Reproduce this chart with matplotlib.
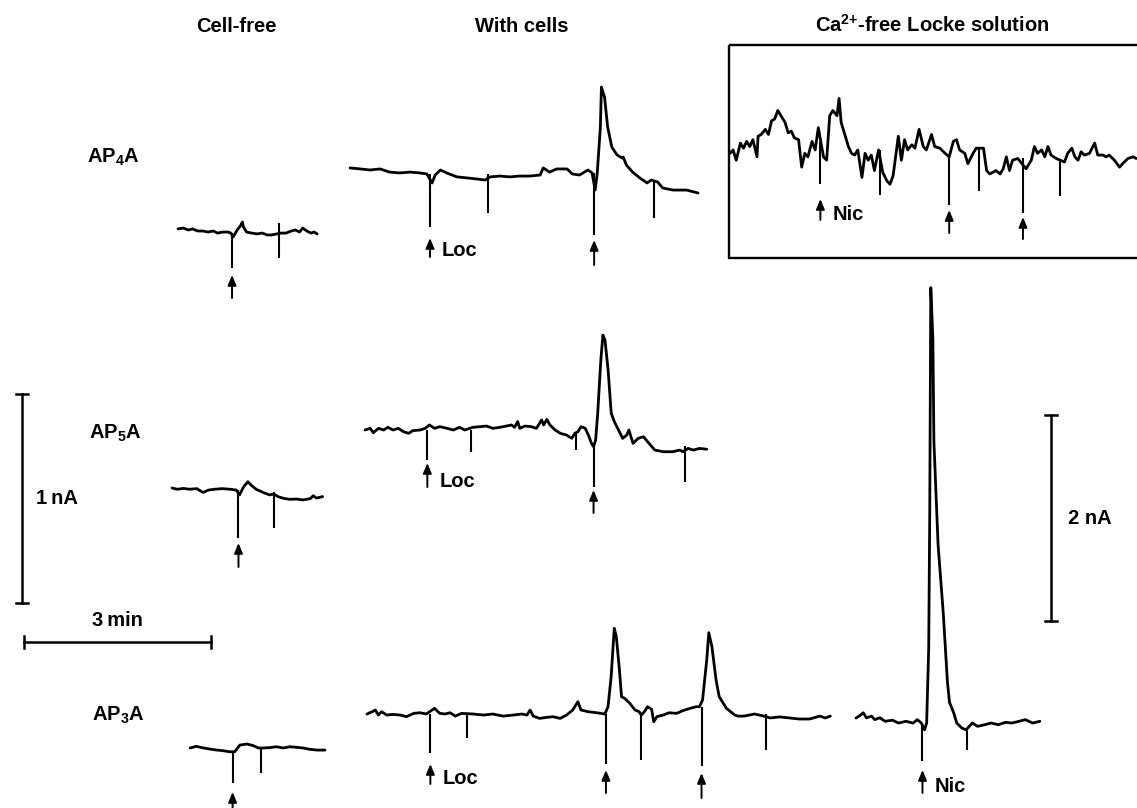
import matplotlib
matplotlib.use('Agg')
import matplotlib.pyplot as plt
from matplotlib.patches import Rectangle

plt.rcParams['font.family'] = ['Liberation Sans', 'DejaVu Sans']
plt.rcParams['font.weight'] = 'bold'
plt.rcParams['mathtext.fontset'] = 'custom'
plt.rcParams['mathtext.rm'] = 'Liberation Sans:bold'
plt.rcParams['mathtext.it'] = 'Liberation Sans:bold'
plt.rcParams['mathtext.bf'] = 'Liberation Sans:bold'

W, H = 1137, 808
PX_PER_S = 187 / 180          # 3 min bar
PX_PER_PA = 209 / 1000        # 1 nA bar
PX_PER_PA_CA = 206 / 2000     # 2 nA bar (Ca-free column)

# ---- data: time (s), current (pA) ----
# AP4A, cell-free
ap4a_free_t = [0, 5, 10, 14, 19, 24, 29, 34, 38, 43, 48, 51, 53, 57, 60, 62, 63, 66, 71, 76, 81, 86,
               90, 95, 99, 104, 109, 113, 117, 120, 124, 128, 131, 134]
ap4a_free_i = [10, 14, 5, 10, 0, 0, -5, 0, -10, -5, -5, -10, -29, 5, 24, 43, 19, -5, -10, -14, -10, -19,
               -19, -14, -10, -10, 0, 5, -5, 14, 0, -10, -5, -14]
ap4a_free_stim = [52, 97]
ap4a_free_top = [-10, 38]
ap4a_free_bot = [-177, -129]

# AP4A, with cells
ap4a_cells_t = [0, 10, 19, 29, 38, 48, 58, 67, 74, 79, 82, 87, 93, 103, 113, 122, 130, 135, 144, 154,
                163, 173, 183, 186, 192, 199, 209, 214, 221, 229, 233, 236, 238, 241, 242, 245, 248,
                252, 257, 262, 263, 266, 272, 279, 286, 290, 296, 301, 311, 324, 335]
ap4a_cells_i = [10, 5, 0, 5, -10, -14, -10, -14, -19, -62, -24, 0, -14, -33, -38, -43, -48, -33, -29,
                -33, -29, -29, -24, 10, -10, 5, 5, -19, -24, 0, -14, -96, -14, 206, 397, 349, 206,
                110, 72, 57, 62, 24, -10, -38, -62, -48, -57, -86, -96, -96, -110]
ap4a_cells_stim = [77, 133, 235, 293]
ap4a_cells_top = [-19, -19, -14, -48]
ap4a_cells_bot = [-272, -206, -311, -229]

# AP4A, Ca2+-free Locke solution
ap4a_ca_t = [0, 3, 6, 10, 13, 16, 19, 22, 26, 27, 30, 34, 37, 40, 43, 46, 50, 53, 56, 59, 62, 66, 69,
             72, 75, 79, 82, 85, 90, 93, 96, 99, 103, 105, 107, 111, 114, 117, 120, 123, 127, 130,
             133, 136, 139, 143, 147, 151, 154, 157, 162, 165, 168, 171, 175, 178, 182, 186, 189,
             194, 197, 202, 207, 211, 215, 218, 221, 226, 229, 234, 237, 244, 247, 250, 253, 256,
             260, 263, 266, 269, 272, 277, 285, 290, 293, 296, 300, 303, 306, 309, 314, 318, 322,
             325, 329, 332, 335, 338, 341, 346, 351, 354, 359, 362, 365, 370, 375, 378, 383, 388, 391]
ap4a_ca_i = [-13, 20, -80, 87, 37, 103, 53, 120, -47, 153, 170, 220, 170, 303, 320, 403, 337, 287,
             187, 203, 137, 120, -147, -13, -47, 103, 20, 237, -47, -80, 353, 403, 353, 520, 287,
             153, 53, -13, -30, 20, -247, -13, -80, -30, -180, 20, -197, -280, -313, -230, 153, -80,
             120, 20, 70, 37, 220, 53, 20, 170, 53, 37, -13, -47, 103, 120, 20, -13, -113, -13, 37,
             37, -180, -213, -197, -180, -213, -163, -47, -180, -80, -63, -163, -80, 53, -13, 20,
             -47, 53, -30, -63, -80, -97, -13, 37, -47, -80, 3, -30, -13, 87, -30, -30, -47, -30,
             -80, -147, -113, -63, -47, -63]
ap4a_ca_stim = [87, 144, 211, 240, 282, 318]
ap4a_ca_top = [100, 20, -47, 37, -63, -80]
ap4a_ca_bot = [-313, -413, -513, -380, -597, -430]

# AP5A, cell-free
ap5a_free_t = [0, 5, 11, 17, 24, 27, 30, 35, 41, 48, 56, 62, 65, 69, 73, 77, 81, 88, 94, 98, 102,
               107, 113, 120, 126, 133, 136, 139, 142, 145]
ap5a_free_i = [0, -6, -2, -6, -3, -13, -21, -10, -6, -3, -6, -10, -33, 6, 30, 10, -6, -22, -33, -29,
               -41, -49, -54, -53, -57, -51, -37, -48, -45, -41]
ap5a_free_stim = [64, 98]
ap5a_free_top = [-10, -18]
ap5a_free_bot = [-240, -193]

# AP5A, with cells
ap5a_cells_t = [0, 5, 8, 13, 18, 22, 27, 32, 37, 42, 46, 53, 58, 62, 67, 72, 79, 85, 91, 96, 104,
                111, 117, 123, 130, 136, 141, 144, 147, 149, 154, 160, 165, 170, 172, 175, 178, 183,
                188, 194, 199, 202, 205, 208, 212, 215, 218, 220, 222, 224, 227, 229, 231, 234, 237,
                240, 244, 248, 252, 254, 258, 263, 268, 272, 279, 287, 296, 303, 306, 311, 316, 322,
                329]
ap5a_cells_i = [0, 8, -13, 8, 0, 13, 0, 8, -8, -16, -3, 0, 8, 24, 8, 16, 8, 0, 13, 0, 13, 16, 19, 8,
                13, 19, 24, 13, 40, 8, 19, 16, 8, 48, 24, 51, 24, 0, -16, -24, -40, -16, -8, 16, 8,
                -24, -64, -80, -48, 80, 335, 454, 430, 287, 80, 40, 0, -40, -24, 0, -64, -40, -32,
                -56, -96, -104, -104, -96, -104, -88, -96, -88, -92]
ap5a_cells_stim = [60, 102, 203, 220, 308]
ap5a_cells_top = [0, 0, -16, -80, -76]
ap5a_cells_bot = [-143, -104, -96, -272, -247]

# AP3A, cell-free
ap3a_free_t = [0, 6, 13, 19, 26, 32, 38, 43, 48, 55, 61, 66, 70, 77, 83, 90, 96, 103, 109, 115, 122, 130]
ap3a_free_i = [0, 8, 0, -5, -10, -13, -18, -18, 14, 19, 11, 0, 0, 2, 6, 0, 6, 3, 0, -6, -10, -10]
ap3a_free_stim = [41, 68]
ap3a_free_top = [-18, 6]
ap3a_free_bot = [-169, -118]

# AP3A, with cells
ap3a_cells_t = [0, 5, 8, 11, 14, 19, 25, 32, 38, 45, 51, 57, 65, 70, 75, 80, 85, 91, 102, 112, 121,
                131, 141, 149, 154, 157, 160, 166, 173, 179, 186, 192, 198, 203, 206, 213, 221, 229,
                232, 235, 238, 240, 243, 245, 248, 253, 258, 262, 264, 267, 270, 274, 276, 279, 285,
                291, 298, 304, 311, 317, 320, 323, 327, 329, 332, 336, 339, 346, 354, 357, 363, 373,
                382, 388, 397, 407, 416, 426, 436, 441, 446]
ap3a_cells_i = [0, 11, 19, -5, 11, -5, -2, -5, -13, 3, 6, 0, 27, 3, 0, 6, -10, 3, 0, -5, 0, -10, -5,
                0, -5, 19, -10, -21, -16, -13, -21, -5, 19, 59, 19, 11, 6, 0, 35, 178, 410, 369, 210,
                83, 75, 51, 19, 11, -5, 11, 35, 22, -37, -13, -5, 6, 3, 16, 27, 35, 35, 67, 258, 389,
                322, 163, 83, 27, -5, -10, -10, 0, -10, -19, -14, -19, -24, -24, -10, -19, -10]
ap3a_cells_stim = [61, 96, 230, 264, 322, 384]
ap3a_cells_top = [0, 3, 0, -5, 35, 0]
ap3a_cells_bot = [-185, -116, -239, -220, -249, -172]

# AP3A, Ca2+-free Locke solution
ap3a_ca_t = [0, 3, 7, 10, 15, 18, 23, 28, 35, 41, 48, 55, 59, 63, 66, 68, 70, 71, 72, 74, 75, 79, 84,
             88, 90, 94, 97, 102, 106, 109, 112, 117, 124, 130, 137, 144, 150, 157, 163, 170, 177]
ap3a_ca_i = [0, 18, 51, 2, 18, -16, 2, -32, -21, -49, -32, -49, -16, -49, -115, -49, 684, 2016, 4179,
             3680, 2681, 1683, 1017, 351, 151, 51, -49, -98, -115, -81, -49, -81, -65, -49, -65, -42,
             -49, -32, -16, -49, -32]
ap3a_ca_stim = [64, 107]
ap3a_ca_top = [-49, -115]
ap3a_ca_bot = [-414, -314]

fig = plt.figure(figsize=(W / 100, H / 100), dpi=100)
fig.patch.set_facecolor('white')

# layout axes in pixel coordinates, for labels and scale bars
lay = fig.add_axes([0, 0, 1, 1])
lay.set_xlim(0, W)
lay.set_ylim(H, 0)
lay.axis('off')

FS = 14.5


def draw_trace(t, i, stim, top, bot, x0, y0, gain, arrows):
    ax = fig.add_axes([0, 0, 1, 1])
    ax.patch.set_alpha(0)
    ax.set_xlim(-x0 / PX_PER_S, (W - x0) / PX_PER_S)
    ax.set_ylim(-(H - y0) / gain, y0 / gain)
    ax.axis('off')
    ax.plot(t, i, color='black', lw=2.0, solid_joinstyle='round', solid_capstyle='round')
    ax.vlines(stim, bot, top, color='black', lw=1.5)
    for k, tip, tail, label in arrows:
        ts = stim[k]
        ax.annotate('', xy=(ts, -tip / gain), xytext=(ts, -tail / gain),
                    arrowprops=dict(arrowstyle='-|>,head_length=0.6,head_width=0.25',
                                    lw=1.4, color='black', shrinkA=0, shrinkB=0,
                                    mutation_scale=10))
        if label:
            ax.text(ts + 12 / PX_PER_S, -(tail - 6) / gain, label, ha='left', va='center',
                    fontsize=FS)


draw_trace(ap4a_free_t, ap4a_free_i, ap4a_free_stim, ap4a_free_top, ap4a_free_bot,
           178, 231, PX_PER_PA, [(0, 44, 67, '')])
draw_trace(ap4a_cells_t, ap4a_cells_i, ap4a_cells_stim, ap4a_cells_top, ap4a_cells_bot,
           350, 170, PX_PER_PA, [(0, 68, 87, 'Loc'), (2, 70, 95, '')])
draw_trace(ap4a_ca_t, ap4a_ca_i, ap4a_ca_stim, ap4a_ca_top, ap4a_ca_bot,
           730, 152, PX_PER_PA_CA, [(0, 47, 68, 'Nic'), (2, 58, 81, ''), (4, 65, 87, '')])
draw_trace(ap5a_free_t, ap5a_free_i, ap5a_free_stim, ap5a_free_top, ap5a_free_bot,
           172, 488, PX_PER_PA, [(0, 55, 79, '')])
draw_trace(ap5a_cells_t, ap5a_cells_i, ap5a_cells_stim, ap5a_cells_top, ap5a_cells_bot,
           365, 430, PX_PER_PA, [(0, 33, 57, 'Loc'), (3, 60, 83, '')])
draw_trace(ap3a_free_t, ap3a_free_i, ap3a_free_stim, ap3a_free_top, ap3a_free_bot,
           190, 748, PX_PER_PA, [(0, 44, 66, '')])
draw_trace(ap3a_cells_t, ap3a_cells_i, ap3a_cells_stim, ap3a_cells_top, ap3a_cells_bot,
           367, 714, PX_PER_PA, [(0, 50, 70, 'Loc'), (2, 56, 79, ''), (4, 59, 84, '')])
draw_trace(ap3a_ca_t, ap3a_ca_i, ap3a_ca_stim, ap3a_ca_top, ap3a_ca_bot,
           856, 718, PX_PER_PA_CA, [(0, 52, 75, 'Nic')])

# box around the Ca2+-free AP4A record
lay.add_patch(Rectangle((729, 45), 420, 213, fill=False, lw=1.7, edgecolor='black'))

# column titles and row labels
lay.text(236, 26, 'Cell-free', ha='center', va='center', fontsize=FS)
lay.text(522, 26, 'With cells', ha='center', va='center', fontsize=FS)
lay.text(932, 25, r'Ca$^{\mathbf{2{+}}}$-free Locke solution', ha='center', va='center', fontsize=FS)
lay.text(113, 157, r'AP$_{\mathregular{4}}$A', ha='center', va='center', fontsize=FS)
lay.text(115, 433, r'AP$_{\mathregular{5}}$A', ha='center', va='center', fontsize=FS)
lay.text(118, 715, r'AP$_{\mathregular{3}}$A', ha='center', va='center', fontsize=FS)

# scale bars
def vbar(x, y_top, length, label, lx):
    lay.plot([x, x], [y_top, y_top + length], color='black', lw=1.8)
    for yy in (y_top, y_top + length):
        lay.plot([x - 6, x + 6], [yy, yy], color='black', lw=1.8)
    lay.text(lx, y_top + length / 2, label, ha='center', va='center', fontsize=FS)


vbar(22, 394, 1000 * PX_PER_PA, '1\u2009nA', 57)
vbar(1051, 415, 2000 * PX_PER_PA_CA, '2 nA', 1090)

x_len = 180 * PX_PER_S
lay.plot([24, 24 + x_len], [642, 642], color='black', lw=1.8)
for xx in (24, 24 + x_len):
    lay.plot([xx, xx], [636, 648], color='black', lw=1.8)
lay.text(24 + x_len / 2, 621, '3\u2009min', ha='center', va='center', fontsize=FS)

fig.savefig('out.png', dpi=100, facecolor='white')
